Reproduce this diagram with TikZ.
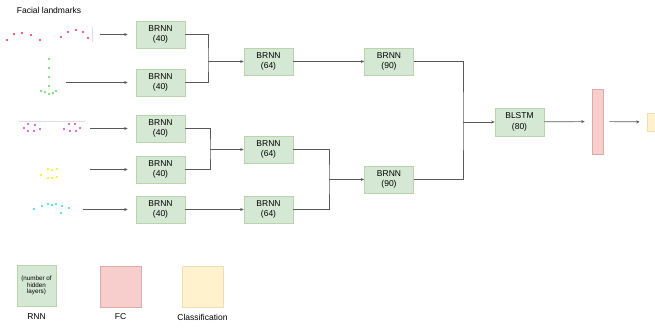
\documentclass[tikz,border=0pt]{standalone}
\usepackage{fontspec}
\setmainfont{Liberation Sans}
\usepackage{tikz}
\usetikzlibrary{arrows.meta, positioning, calc}
\definecolor{rnnfill}{HTML}{D5E8D4}
\definecolor{rnndraw}{HTML}{82B366}
\definecolor{fcfill}{HTML}{F8CECC}
\definecolor{fcdraw}{HTML}{B85450}
\definecolor{clsfill}{HTML}{FFF2CC}
\definecolor{clsdraw}{HTML}{D6B656}
\definecolor{dot_red}{HTML}{F5285A}
\definecolor{dot_green}{HTML}{5CD65C}
\definecolor{dot_magenta}{HTML}{D63CD6}
\definecolor{dot_yellow}{HTML}{F2F200}
\definecolor{dot_cyan}{HTML}{2ED6D6}
\tikzset{
  rnn_block/.style={rectangle, draw=rnndraw!55, fill=rnnfill, line width=0.6pt, inner sep=0pt, minimum width=49pt, minimum height=27pt, align=center, font=\fontsize{8.5}{10.5}\selectfont},
  fc_block/.style={rectangle, draw=fcdraw!50, fill=fcfill, line width=0.6pt, inner sep=0pt},
  cls_block/.style={rectangle, draw=clsdraw!45, fill=clsfill, line width=0.6pt, inner sep=0pt},
  key_label/.style={font=\fontsize{8.5}{10}\selectfont},
  title_text/.style={font=\fontsize{8.5}{10}\selectfont},
  arrow/.style={-{Stealth[length=3.5pt, width=3pt]}, line width=0.7pt, black!65},
  connect/.style={-, line width=0.7pt, black!65},
  lm_dot/.style={circle, inner sep=0pt, minimum size=2.2pt},
  lm_guide/.style={line width=0.5pt, gray!25}
}

\begin{document}
\begin{tikzpicture}[x=1pt, y=-1pt]
    \clip (0,0) rectangle (655,329);

    % title
    \node[title_text] (title) at (49,10) {Facial landmarks};

    % landmark groups
    \draw[lm_guide] (92,27) -- (92,42);
    \draw[lm_guide] (19,121) -- (85,121);
    \foreach \px/\py in {7/40,14/34,22/33,31/35,40/40,61/37,68/32,76/30,83/32,88/38}
      \node[lm_dot, fill=dot_red] at (\px,\py) {};
    \foreach \px/\py in {49/59,49/68,49/77,49/86,41/91,45/92,49/94,53/93,56/91}
      \node[lm_dot, fill=dot_green] at (\px,\py) {};
    \foreach \px/\py in {28/124,35/125,24/128,28/131,34/131,40/129,69/124,75/124,80/128,64/129,70/131,76/131}
      \node[lm_dot, fill=dot_magenta] at (\px,\py) {};
    \foreach \px/\py in {48/169,52/170,57/169,41/175,48/178,52/178,57/177}
      \node[lm_dot, fill=dot_yellow] at (\px,\py) {};
    \foreach \px/\py in {34/209,42/206,48/204,52/205,56/204,62/206,69/208,61/213}
      \node[lm_dot, fill=dot_cyan] at (\px,\py) {};

    % arrow starts
    \coordinate (lm1) at (100,34.5);
    \coordinate (lm2) at (66,82.5);
    \coordinate (lm3) at (90,128.5);
    \coordinate (lm4) at (90,169.5);
    \coordinate (lm5) at (83,209.5);

    % first column
    \node[rnn_block] (b1) at (160.5,34.5) {BRNN\\(40)};
    \node[rnn_block] (b2) at (160.5,82.5) {BRNN\\(40)};
    \node[rnn_block] (b3) at (160.5,128.5) {BRNN\\(40)};
    \node[rnn_block] (b4) at (160.5,169.5) {BRNN\\(40)};
    \node[rnn_block] (b5) at (160.5,209.5) {BRNN\\(40)};

    % second column
    \node[rnn_block] (c1) at (268.5,61.5) {BRNN\\(64)};
    \node[rnn_block] (c2) at (268.5,149.5) {BRNN\\(64)};
    \node[rnn_block] (c3) at (268.5,209.5) {BRNN\\(64)};

    % third column
    \node[rnn_block] (d1) at (389,61.5) {BRNN\\(90)};
    \node[rnn_block] (d2) at (389,179.5) {BRNN\\(90)};

    % output part
    \node[rnn_block, minimum height=28pt] (blstm) at (519.5,122) {BLSTM\\(80)};
    \node[fc_block, minimum width=11pt, minimum height=65pt] (fc) at (597.5,121.5) {};
    \node[cls_block, minimum width=18pt, minimum height=18pt] (cls) at (656,122) {};

    % junctions
    \coordinate (j1) at (208,61.5);
    \coordinate (j2) at (210,149.5);
    \coordinate (j3) at (329,179.5);
    \coordinate (j4) at (463,122);

    % inputs
    \foreach \i in {1,...,5}
      \draw[arrow, shorten >=8pt] (lm\i) -- (b\i);

    % merges
    \draw[connect] (b1.east) -| (j1) |- (b2.east);
    \draw[arrow] (j1) -- (c1);
    \draw[connect] (b3.east) -| (j2) |- (b4.east);
    \draw[arrow] (j2) -- (c2);
    \draw[arrow] (b5) -- (c3);
    \draw[arrow] (c1) -- (d1);
    \draw[connect] (c2.east) -| (j3) |- (c3.east);
    \draw[arrow] (j3) -- (d2);
    \draw[connect] (d1.east) -| (j4) |- (d2.east);
    \draw[arrow] (j4) -- (blstm);
    \draw[arrow, shorten >=7pt] (blstm) -- (fc);
    \draw[arrow, shorten <=6pt, shorten >=7pt] (fc) -- (cls);

    % legend
    \node[rnn_block, minimum width=39pt, minimum height=41pt, font=\fontsize{6.3}{6.8}\selectfont] (rnn_key) at (36.5,285.5) {(number of\\hidden\\layers)};
    \node[fc_block, minimum size=41pt] (fc_key) at (120.5,286.5) {};
    \node[cls_block, minimum size=41pt] (cls_key) at (202.5,286.5) {};
    \node[key_label] (rnn_text) at (36.5,317) {RNN};
    \node[key_label] (fc_text) at (120.5,317) {FC};
    \node[key_label] (cls_text) at (202.5,317) {Classification};
\end{tikzpicture}
\end{document}
